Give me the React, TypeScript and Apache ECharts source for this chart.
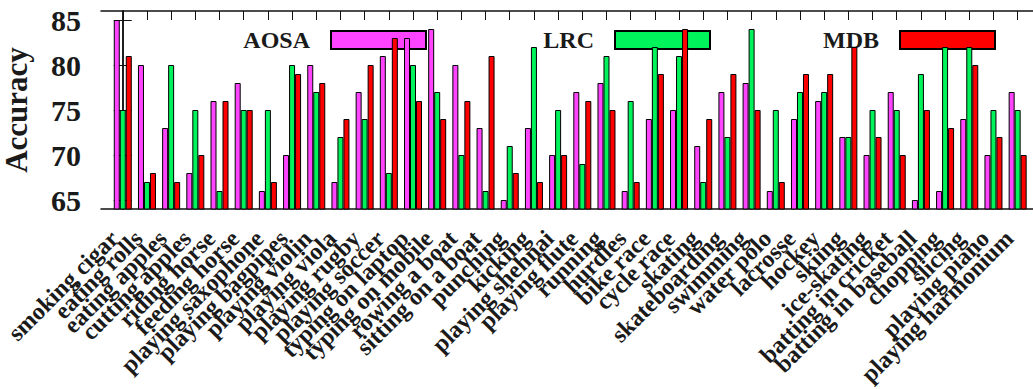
import React, { useEffect, useRef } from 'react';
import * as echarts from 'echarts';

const categories = [
  'smoking cigar', 'eating rolls', 'eating apples', 'cutting apples', 'riding horse',
  'feeding horse', 'playing saxophone', 'playing bagpipes', 'playing violin', 'playing viola',
  'playing rugby', 'playing soccer', 'typing on laptop', 'typing on mobile', 'rowing a boat',
  'sitting on a boat', 'punching', 'kicking', 'playing shehnai', 'playing flute',
  'running', 'hurdles', 'bike race', 'cycle race', 'skating',
  'skateboarding', 'swimming', 'water polo', 'lacrosse', 'hockey',
  'skiing', 'ice-skating', 'batting in cricket', 'batting in baseball', 'chopping',
  'slicing', 'playing piano', 'playing harmonium',
];

const aosa = [85, 80, 73, 68, 76, 78, 66, 70, 80, 67, 77, 81, 83, 84, 80, 73, 65, 73, 70, 77, 78, 66, 74, 75, 71, 77, 78, 66, 74, 76, 72, 70, 77, 65, 66, 74, 70, 77];
const lrc = [75, 67, 80, 75, 66, 75, 75, 80, 77, 72, 74, 68, 80, 77, 70, 66, 71, 82, 75, 69, 81, 76, 82, 81, 67, 72, 84, 75, 77, 77, 72, 75, 75, 79, 82, 82, 75, 75];
const mdb = [81, 68, 67, 70, 76, 75, 67, 79, 78, 74, 80, 83, 76, 74, 76, 81, 68, 67, 70, 76, 75, 67, 79, 84, 74, 79, 75, 67, 79, 79, 82, 72, 70, 75, 73, 80, 72, 70];

const seriesNames = ['AOSA', 'LRC', 'MDB'];
const yTicks = [65, 70, 75, 80, 85];

export default function App() {
  const ref = useRef<HTMLDivElement>(null);
  useEffect(() => {
    document.body.style.margin = '0';
    const chart = echarts.init(ref.current!, null, { renderer: 'svg' });
    const idx = categories.map((_, i) => i);
    // empty guard labels at both ends keep ECharts' min/max overlap check from hiding real labels
    const labelValues = [-0.6, ...idx, idx.length - 0.4];
    const font = 'Liberation Serif';
    const txt = '#1a1a1a';
    const colors = ['#ff44ff', '#00f35a', '#ff0000'];
    const values = [aosa, lrc, mdb];
    const legendRight = [606, 322, 37];
    const lineStyle = { color: '#111', width: 1.5 };

    const series = seriesNames.map((name, k) => ({
      name,
      type: 'bar',
      xAxisIndex: 0,
      yAxisIndex: 0,
      data: values[k].map((v, i) => [i, v]),
      barWidth: 6,
      barGap: '0%',
      itemStyle: { color: colors[k], borderColor: '#000', borderWidth: 1 },
      z: 5,
    }));

    chart.setOption({
      animation: false,
      backgroundColor: '#fff',
      grid: { left: 101, top: 11, right: -4, bottom: 180, containLabel: false, outerBoundsMode: 'none' },
      legend: seriesNames.map((n, k) => ({
        data: [n],
        right: legendRight[k],
        top: 28,
        padding: 0,
        align: 'right',
        itemWidth: 95,
        itemHeight: 18,
        icon: 'rect',
        selectedMode: false,
        z: 1,
        formatter: '{t|{name}}',
        textStyle: {
          fontFamily: font, fontWeight: 'bold', fontSize: 24, color: txt,
          rich: { t: { fontFamily: font, fontWeight: 'bold', fontSize: 24, color: txt, lineHeight: 18, padding: [0, 16, 0, 0] } },
        },
      })),
      xAxis: [
        {
          type: 'value', position: 'bottom', min: -0.9, max: 37.8,
          axisLine: { show: true, lineStyle },
          axisTick: { show: false },
          splitLine: { show: false },
          axisLabel: {
            customValues: labelValues,
            hideOverlap: false,
            formatter: (v: number) => (Number.isInteger(v) && categories[v] ? '{a|' + categories[v] + '}' : ''),
            rotate: 45, margin: 17,
            fontFamily: font, fontWeight: 'bold', fontSize: 24, color: txt,
            rich: { a: { fontFamily: font, fontWeight: 'bold', fontSize: 24, color: txt, padding: [0, 12, 0, 0] } },
          },
        },
        {
          type: 'value', position: 'top', min: -0.9, max: 37.8,
          axisLine: { show: true, lineStyle },
          axisTick: { show: true, inside: true, length: 9, customValues: idx, lineStyle: { color: '#111', width: 1 } },
          splitLine: { show: false },
          axisLabel: { show: false },
        },
      ],
      yAxis: [
        {
          type: 'value', min: 64, max: 86, position: 'left',
          axisLine: { show: true, lineStyle },
          axisTick: { show: true, inside: true, length: 9, customValues: yTicks, lineStyle: { color: '#111', width: 1 } },
          splitLine: { show: false },
          axisLabel: {
            customValues: yTicks, margin: 20,
            fontFamily: font, fontWeight: 'bold', fontSize: 30, color: txt,
          },
          name: 'Accuracy', nameLocation: 'middle', nameRotate: 90, nameGap: 69,
          nameTextStyle: { fontFamily: font, fontWeight: 'bold', fontSize: 31, color: txt },
        },
        {
          type: 'value', min: 64, max: 86, position: 'right',
          axisLine: { show: true, lineStyle },
          axisTick: { show: true, inside: true, length: 9, customValues: yTicks, lineStyle: { color: '#111', width: 1 } },
          splitLine: { show: false },
          axisLabel: { show: false },
        },
      ],
      series,
    });
    return () => chart.dispose();
  }, []);
  return <div ref={ref} style={{ width: 1033, height: 389 }} />;
}
